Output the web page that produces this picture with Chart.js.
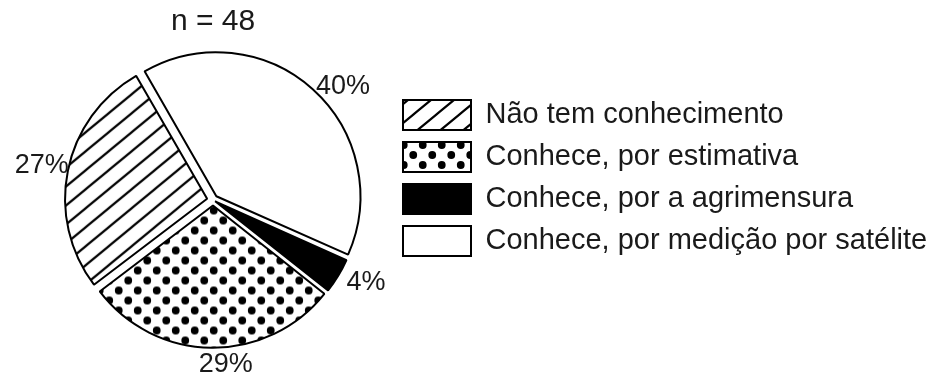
<!DOCTYPE html>
<html>
<head>
<meta charset="utf-8">
<script src="https://cdn.jsdelivr.net/npm/chart.js@4.4.1/dist/chart.umd.min.js"></script>
<style>
  html, body { margin: 0; padding: 0; background: #fff; }
  #wrap { width: 931px; height: 376px; }
</style>
</head>
<body>
<div id="wrap"><canvas id="knowChart" width="931" height="376"></canvas></div>
<script>
// answers, in drawing order (clockwise from the top-left)
const answers = [
  'Conhece, por medição por satélite',
  'Conhece, por a agrimensura',
  'Conhece, por estimativa',
  'Não tem conhecimento',
];
const shares = [40, 4, 29, 27];
const sampleSize = 48;

const FONT = "'Liberation Sans', Arial, sans-serif";
const INK = '#1a1a1a';

// diagonal "/" hatching, a little flatter than 45 degrees
const makeHatch = () => {
  const w = 23, h = 19;
  const c = document.createElement('canvas');
  c.width = w; c.height = h;
  const g = c.getContext('2d');
  g.fillStyle = '#fff';
  g.fillRect(0, 0, w, h);
  g.strokeStyle = '#000';
  g.lineWidth = 2.2;
  g.beginPath();
  [-h, 0, h].forEach(dy => {
    g.moveTo(-w, 2 * h + dy);
    g.lineTo(2 * w, -h + dy);
  });
  g.stroke();
  return g.createPattern(c, 'repeat');
};

// staggered black dots
const makeDots = () => {
  const w = 19, h = 20;
  const c = document.createElement('canvas');
  c.width = w; c.height = h;
  const g = c.getContext('2d');
  g.fillStyle = '#fff';
  g.fillRect(0, 0, w, h);
  g.fillStyle = '#000';
  [[w / 4, h / 4], [w * 3 / 4, h * 3 / 4]].forEach(([x, y]) => {
    g.beginPath();
    g.arc(x, y, 3.9, 0, Math.PI * 2);
    g.fill();
  });
  return g.createPattern(c, 'repeat');
};

const fills = ['#ffffff', '#000000', makeDots(), makeHatch()];

// percentage labels just outside each slice
const pctLabels = {
  id: 'pctLabels',
  afterDatasetsDraw(chart, args, opts) {
    const { ctx } = chart;
    const meta = chart.getDatasetMeta(0);
    ctx.save();
    ctx.font = `${opts.size}px ${FONT}`;
    ctx.fillStyle = INK;
    ctx.textAlign = 'center';
    ctx.textBaseline = 'middle';
    meta.data.forEach((arc, i) => {
      const { x, y, startAngle, endAngle, outerRadius } =
        arc.getProps(['x', 'y', 'startAngle', 'endAngle', 'outerRadius'], true);
      const a = (startAngle + endAngle) / 2 + opts.nudge[i] * Math.PI / 180;
      const dist = outerRadius + 22 + 11 * Math.abs(Math.cos(a));
      ctx.fillText(shares[i] + '%', x + Math.cos(a) * dist, y + Math.sin(a) * dist);
    });
    ctx.restore();
  }
};

new Chart(document.getElementById('knowChart'), {
  type: 'pie',
  data: {
    labels: answers,
    datasets: [{
      data: shares,
      backgroundColor: fills,
      borderColor: '#000',
      borderWidth: 2,
      offset: [20, 10, 22, 24],
    }]
  },
  options: {
    responsive: false,
    animation: false,
    events: [],
    rotation: -30,
    radius: 142,
    layout: { padding: { left: 35, bottom: 20 } },
    plugins: {
      title: {
        display: true,
        text: 'n = ' + sampleSize,
        fullSize: false,
        color: INK,
        font: { family: FONT, size: 30, weight: 'normal' },
        padding: { top: 4, bottom: 4 }
      },
      legend: {
        position: 'right',
        reverse: true,
        maxWidth: 540,
        labels: {
          boxWidth: 68,
          boxHeight: 30,
          padding: 12,
          color: INK,
          font: { family: FONT, size: 29 }
        }
      },
      tooltip: { enabled: false },
      pctLabels: { size: 27, nudge: [7, -3, -5, 0] }
    }
  },
  plugins: [pctLabels]
});
</script>
</body>
</html>
